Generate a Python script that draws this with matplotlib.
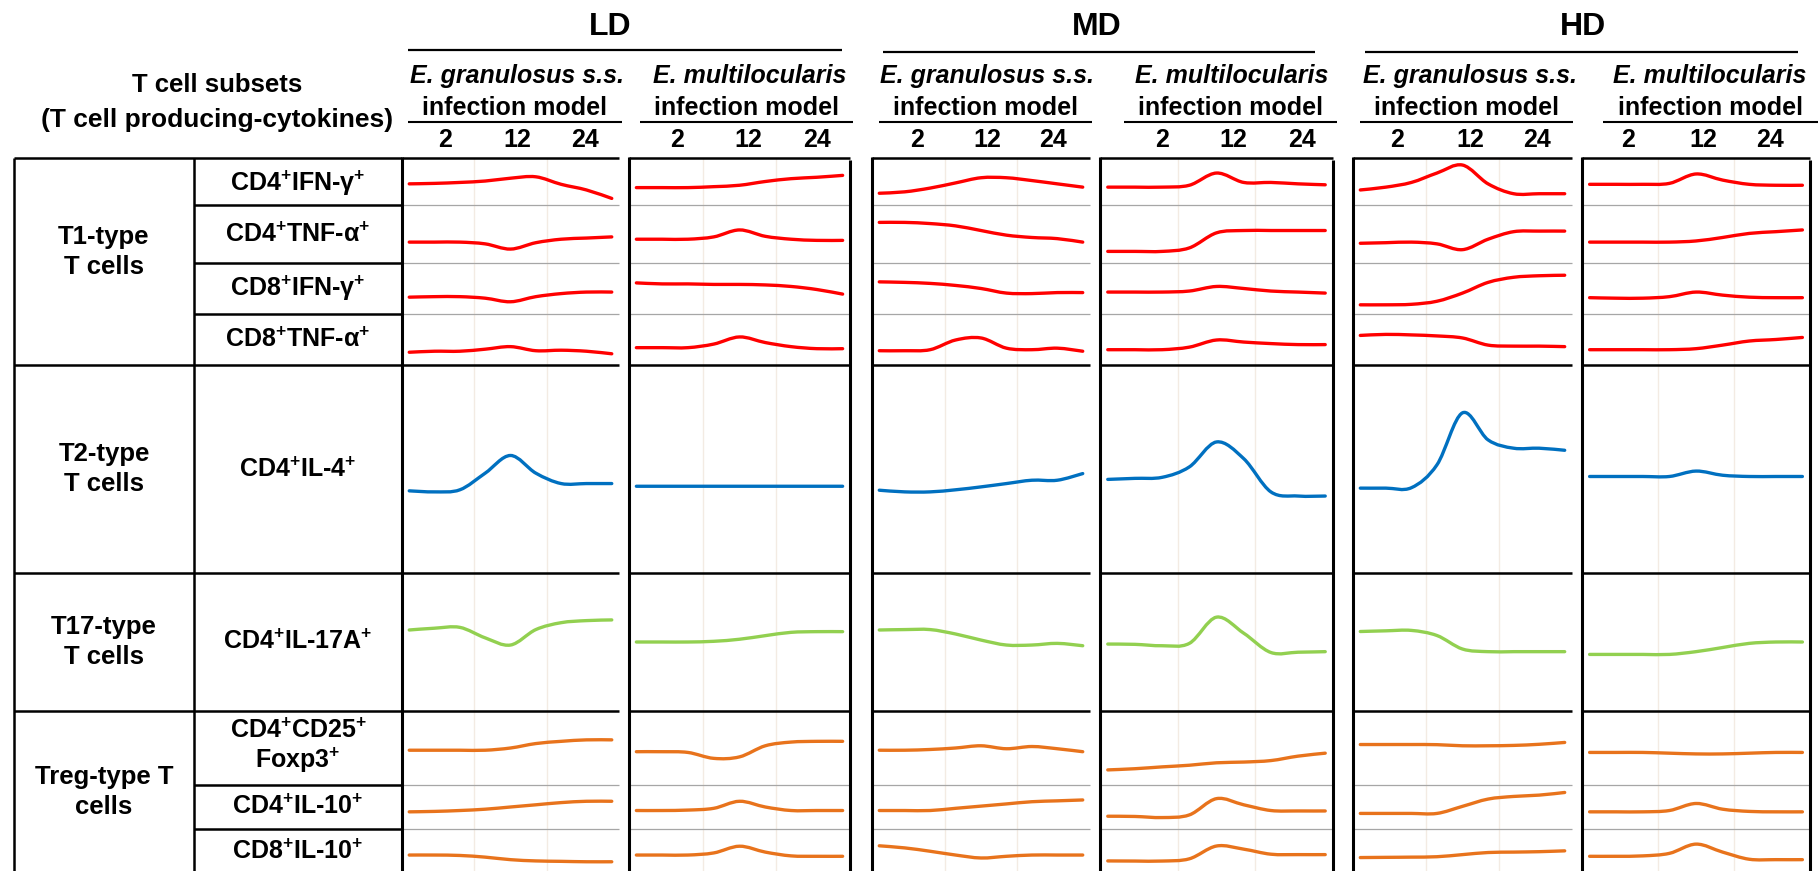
import matplotlib.pyplot as plt
from matplotlib.lines import Line2D
from matplotlib.path import Path
from matplotlib.patches import PathPatch

plt.rcParams['font.family'] = ['Liberation Sans', 'DejaVu Sans']
plt.rcParams['mathtext.fontset'] = 'custom'
plt.rcParams['mathtext.rm'] = 'Liberation Sans:bold'
plt.rcParams['mathtext.bf'] = 'Liberation Sans:bold'
plt.rcParams['mathtext.it'] = 'Liberation Sans:bold:italic'

# ---- data -------------------------------------------------------------
doses = ['LD', 'MD', 'HD']
models = ['E. granulosus s.s.', 'E. multilocularis']
weeks = ['2', '12', '24']
groups = ['T1-type\nT cells', 'T2-type\nT cells', 'T17-type\nT cells', 'Treg-type T\ncells']
subsets = ['CD4$^{\\mathbf{+}}$IFN-γ$^{\\mathbf{+}}$', 'CD4$^{\\mathbf{+}}$TNF-α$^{\\mathbf{+}}$',
           'CD8$^{\\mathbf{+}}$IFN-γ$^{\\mathbf{+}}$', 'CD8$^{\\mathbf{+}}$TNF-α$^{\\mathbf{+}}$',
           'CD4$^{\\mathbf{+}}$IL-4$^{\\mathbf{+}}$', 'CD4$^{\\mathbf{+}}$IL-17A$^{\\mathbf{+}}$',
           'CD4$^{\\mathbf{+}}$CD25$^{\\mathbf{+}}$\nFoxp3$^{\\mathbf{+}}$',
           'CD4$^{\\mathbf{+}}$IL-10$^{\\mathbf{+}}$', 'CD8$^{\\mathbf{+}}$IL-10$^{\\mathbf{+}}$']

# sample positions along the time axis (in column units, 0..3)
sample_pos = [0.1, 0.45, 0.8, 1.15, 1.5, 1.85, 2.2, 2.55, 2.9]

# relative level of each trend line inside its cell (0 = bottom, 1 = top)
ld_eg = [[0.45, 0.46, 0.48, 0.51, 0.57, 0.60, 0.44, 0.32, 0.14],
         [0.36, 0.36, 0.36, 0.33, 0.24, 0.35, 0.41, 0.43, 0.45],
         [0.33, 0.34, 0.34, 0.31, 0.24, 0.34, 0.40, 0.43, 0.43],
         [0.25, 0.27, 0.27, 0.31, 0.36, 0.28, 0.29, 0.27, 0.22],
         [0.395, 0.39, 0.40, 0.48, 0.565, 0.48, 0.43, 0.43, 0.43],
         [0.587, 0.60, 0.606, 0.53, 0.478, 0.59, 0.64, 0.655, 0.66],
         [0.47, 0.47, 0.47, 0.47, 0.50, 0.56, 0.59, 0.61, 0.61],
         [0.39, 0.40, 0.42, 0.45, 0.50, 0.55, 0.60, 0.63, 0.63],
         [0.38, 0.38, 0.37, 0.33, 0.27, 0.24, 0.23, 0.22, 0.22]]
ld_em = [[0.37, 0.37, 0.37, 0.39, 0.42, 0.50, 0.56, 0.59, 0.63],
         [0.41, 0.41, 0.41, 0.45, 0.57, 0.46, 0.41, 0.39, 0.39],
         [0.61, 0.59, 0.59, 0.58, 0.58, 0.57, 0.54, 0.48, 0.39],
         [0.34, 0.34, 0.34, 0.41, 0.55, 0.44, 0.36, 0.32, 0.32],
         [0.417, 0.417, 0.417, 0.417, 0.417, 0.417, 0.417, 0.417, 0.417],
         [0.50, 0.50, 0.50, 0.505, 0.52, 0.546, 0.57, 0.575, 0.575],
         [0.45, 0.45, 0.44, 0.36, 0.38, 0.53, 0.58, 0.59, 0.59],
         [0.42, 0.42, 0.43, 0.47, 0.63, 0.50, 0.42, 0.42, 0.42],
         [0.38, 0.38, 0.38, 0.43, 0.59, 0.45, 0.36, 0.35, 0.35]]
md_eg = [[0.25, 0.28, 0.36, 0.47, 0.58, 0.58, 0.52, 0.45, 0.38],
         [0.70, 0.70, 0.68, 0.64, 0.56, 0.48, 0.44, 0.42, 0.36],
         [0.63, 0.62, 0.60, 0.56, 0.50, 0.41, 0.40, 0.42, 0.42],
         [0.28, 0.28, 0.30, 0.49, 0.53, 0.33, 0.30, 0.33, 0.27],
         [0.398, 0.39, 0.39, 0.40, 0.414, 0.43, 0.446, 0.446, 0.478],
         [0.587, 0.59, 0.59, 0.558, 0.514, 0.478, 0.478, 0.49, 0.473],
         [0.47, 0.47, 0.48, 0.50, 0.53, 0.49, 0.52, 0.49, 0.45],
         [0.42, 0.42, 0.42, 0.47, 0.52, 0.57, 0.62, 0.64, 0.66],
         [0.60, 0.55, 0.47, 0.38, 0.31, 0.35, 0.38, 0.38, 0.38]]
md_em = [[0.38, 0.38, 0.38, 0.42, 0.68, 0.48, 0.48, 0.45, 0.43],
         [0.20, 0.20, 0.20, 0.26, 0.52, 0.56, 0.56, 0.56, 0.56],
         [0.43, 0.43, 0.43, 0.45, 0.54, 0.50, 0.45, 0.43, 0.41],
         [0.30, 0.30, 0.30, 0.35, 0.49, 0.45, 0.42, 0.40, 0.40],
         [0.45, 0.455, 0.46, 0.51, 0.63, 0.55, 0.39, 0.37, 0.37],
         [0.485, 0.483, 0.473, 0.49, 0.68, 0.564, 0.424, 0.426, 0.43],
         [0.204, 0.22, 0.245, 0.267, 0.30, 0.31, 0.33, 0.39, 0.43],
         [0.29, 0.285, 0.26, 0.32, 0.69, 0.55, 0.42, 0.41, 0.41],
         [0.24, 0.237, 0.237, 0.29, 0.595, 0.52, 0.40, 0.39, 0.39]]
hd_eg = [[0.32, 0.38, 0.48, 0.68, 0.85, 0.45, 0.24, 0.24, 0.24],
         [0.34, 0.35, 0.36, 0.33, 0.23, 0.41, 0.54, 0.55, 0.55],
         [0.18, 0.18, 0.19, 0.25, 0.41, 0.62, 0.72, 0.75, 0.76],
         [0.58, 0.60, 0.59, 0.57, 0.53, 0.39, 0.37, 0.37, 0.36],
         [0.408, 0.408, 0.41, 0.52, 0.77, 0.64, 0.60, 0.60, 0.59],
         [0.576, 0.581, 0.584, 0.547, 0.449, 0.43, 0.43, 0.43, 0.43],
         [0.547, 0.547, 0.547, 0.545, 0.53, 0.53, 0.535, 0.55, 0.575],
         [0.354, 0.354, 0.354, 0.354, 0.515, 0.68, 0.74, 0.77, 0.83],
         [0.32, 0.325, 0.33, 0.34, 0.39, 0.44, 0.45, 0.46, 0.48]]
hd_em = [[0.44, 0.44, 0.44, 0.46, 0.66, 0.53, 0.44, 0.42, 0.42],
         [0.36, 0.36, 0.36, 0.36, 0.38, 0.44, 0.51, 0.54, 0.57],
         [0.32, 0.31, 0.31, 0.34, 0.43, 0.37, 0.33, 0.32, 0.32],
         [0.30, 0.30, 0.30, 0.30, 0.32, 0.39, 0.47, 0.50, 0.54],
         [0.464, 0.464, 0.464, 0.464, 0.49, 0.47, 0.464, 0.464, 0.464],
         [0.41, 0.41, 0.41, 0.41, 0.43, 0.46, 0.49, 0.50, 0.50],
         [0.44, 0.44, 0.44, 0.43, 0.42, 0.42, 0.43, 0.44, 0.44],
         [0.39, 0.39, 0.39, 0.42, 0.58, 0.45, 0.40, 0.39, 0.39],
         [0.35, 0.35, 0.36, 0.42, 0.64, 0.45, 0.28, 0.27, 0.27]]

panels = [ld_eg, ld_em, md_eg, md_em, hd_eg, hd_em]

# ---- layout (pixels, measured from the top-left) -----------------------
W, H = 1818, 871
row_edges = [158, 205, 263, 314, 365, 573, 711, 785, 829, 871]
major = {0, 4, 5, 6}  # black separators between the T cell types
row_colors = ['#FF0000'] * 4 + ['#0070C0', '#92D050'] + ['#E8731C'] * 3
panel_x = [(402, 619), (629, 850), (872, 1090), (1100, 1333), (1353, 1572), (1582, 1810)]
right_border = [False, True, False, True, False, True]
underline_x = [(408, 622), (640, 853), (879, 1092), (1124, 1337), (1360, 1573), (1603, 1818)]
title_x = [517, 750, 987, 1232, 1470, 1710]
tick_x = [(445, 517, 585), (677, 748, 817), (917, 987, 1053),
          (1162, 1233, 1302), (1397, 1470, 1537), (1628, 1703, 1770)]
dose_line = [(408, 842, 50), (883, 1315, 52), (1365, 1798, 52)]
dose_x = [610, 1097, 1583]

fig = plt.figure(figsize=(W / 100, H / 100), dpi=100)


def fx(x):
    return x / W


def fy(y):
    return 1 - y / H


def seg(x0, y0, x1, y1, color='black', lw=1.8):
    fig.add_artist(Line2D([fx(x0), fx(x1)], [fy(y0), fy(y1)], color=color,
                          lw=lw, solid_capstyle='butt'))


def smooth(xs, ys):
    pts = list(zip(xs, ys))
    n = len(pts)
    verts, codes = [pts[0]], [Path.MOVETO]
    for i in range(n - 1):
        p0, p1 = pts[max(i - 1, 0)], pts[i]
        p2, p3 = pts[i + 1], pts[min(i + 2, n - 1)]
        c1 = (p1[0] + (p2[0] - p0[0]) / 6, p1[1] + (p2[1] - p0[1]) / 6)
        c2 = (p2[0] - (p3[0] - p1[0]) / 6, p2[1] - (p3[1] - p1[1]) / 6)
        verts += [c1, c2, p2]
        codes += [Path.CURVE4] * 3
    return Path(verts, codes)


txt = dict(fontweight='bold', color='black')

# header
fig.text(fx(217), fy(92), 'T cell subsets', ha='center', va='baseline', fontsize=18.5, **txt)
fig.text(fx(217), fy(127), '(T cell producing-cytokines)', ha='center', va='baseline', fontsize=19, **txt)
for d, name in enumerate(doses):
    x0, x1, y = dose_line[d]
    fig.text(fx(dose_x[d]), fy(35), name, ha='center', va='baseline', fontsize=23, **txt)
    seg(x0, y, x1, y, lw=1.6)

for p in range(6):
    x0, x1 = panel_x[p]
    ux0, ux1 = underline_x[p]
    fig.text(fx(title_x[p]), fy(83), models[p % 2], ha='center', va='baseline',
             fontsize=18, fontstyle='italic', **txt)
    fig.text(fx((ux0 + ux1) / 2), fy(115), 'infection model', ha='center', va='baseline',
             fontsize=18, **txt)
    seg(ux0, 122, ux1, 122, lw=1.5)
    for k, w in enumerate(weeks):
        fig.text(fx(tick_x[p][k]), fy(147), w, ha='center', va='baseline', fontsize=18, **txt)

    # trend lines, one small axes per cell
    data = panels[p]
    for r in range(9):
        y0, y1 = row_edges[r], row_edges[r + 1]
        ax = fig.add_axes([fx(x0), fy(y1), (x1 - x0) / W, (y1 - y0) / H])
        ax.set_xlim(0, 3)
        ax.set_ylim(0, 1)
        ax.axis('off')
        for c in (1, 2):
            ax.axvline(c, color='#f3ebe3', lw=1, zorder=0)
        ax.add_patch(PathPatch(smooth(sample_pos, data[r]), fill=False,
                               edgecolor=row_colors[r], lw=2.4, capstyle='round'))

    # panel frame
    for r in range(9):
        y = row_edges[r]
        if r in major:
            seg(x0, y, x1, y, lw=1.8)
        else:
            seg(x0, y, x1, y, color='#a6a6a6', lw=0.9)
    seg(x0, 157, x0, H, lw=2.2)
    if right_border[p]:
        seg(x1, 160, x1, H, lw=2.2)

# left table
seg(14, 158, 402, 158)
seg(14, 158, 14, H)
seg(194, 158, 194, H)
for r in range(1, 9):
    y = row_edges[r]
    if r in major:
        seg(14, y, 402, y)
    else:
        seg(194, y, 402, y)

group_y = [252, 469, 642, 792]
for g, label in enumerate(groups):
    fig.text(fx(104), fy(group_y[g]), label, ha='center', va='center', fontsize=18.5,
             linespacing=1.35, **txt)

subset_y = [183, 235, 288, 340, 470, 642, 747, 807, 852]
for s, label in enumerate(subsets):
    fig.text(fx(298), fy(subset_y[s]), label, ha='center', va='center', fontsize=18,
             linespacing=1.15, **txt)

fig.savefig('out.png', dpi=100, facecolor='white')
